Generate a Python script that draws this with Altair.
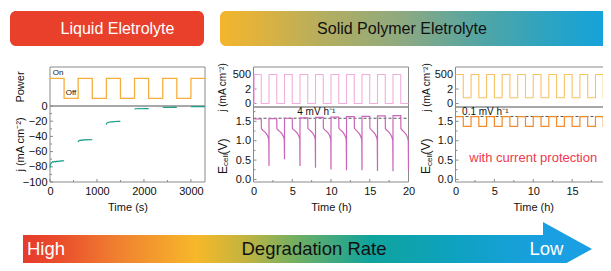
import altair as alt
import pandas as pd

# ---------------- data ----------------
banner_texts = ["Liquid Eletrolyte", "Solid Polymer Eletrolyte"]
arrow_texts = ["High", "Degradation Rate", "Low"]
rate_texts = ["4 mV h⁻¹", "0.1 mV h⁻¹"]
protect_text = "with current protection"

# panel 1 : power on/off (time in s)
p1_time = [0, 300, 300, 600, 600, 900, 900, 1200, 1200, 1500, 1500, 1800, 1800,
           2100, 2100, 2400, 2400, 2700, 2700, 3000, 3000, 3300]
p1_power = [1, 1, 0, 0, 1, 1, 0, 0, 1, 1, 0, 0, 1, 1, 0, 0, 1, 1, 0, 0, 1, 1]

# panel 1 : current density during "on" periods
j1_seg = [1] * 19 + [2] * 18 + [3] * 15 + [4] * 7 + [5] * 7 + [6] * 7
j1_time = [0, 5, 12, 20, 30, 45, 60, 80, 100, 120, 140, 160, 180, 200, 220, 240, 260, 280, 300,
           600, 606, 615, 630, 650, 670, 690, 710, 730, 750, 770, 790, 810, 830, 850, 870, 890, 900,
           1200, 1206, 1215, 1230, 1250, 1275, 1300, 1325, 1350, 1375, 1400, 1425, 1450, 1475, 1500,
           1800, 1850, 1900, 1950, 2000, 2050, 2100,
           2400, 2450, 2500, 2550, 2600, 2650, 2700,
           3000, 3050, 3100, 3150, 3200, 3250, 3300]
j1_val = [-81, -78.5, -76.5, -75.5, -74.5, -74, -73.2, -73.8, -73, -73.5, -72.6, -73, -72.4, -72.8,
          -72.2, -72.6, -71.9, -72.3, -71.8,
          -47.5, -46.5, -45.8, -45.3, -44.9, -45.2, -44.6, -44.9, -44.3, -44.7, -44.2, -44.6, -44.1,
          -44.5, -44.2, -44.4, -44.1, -44.3,
          -24.5, -23, -22.2, -21.8, -21.4, -21.1, -20.9, -20.8, -20.6, -20.5, -20.4, -20.3, -20.2,
          -20.2, -20.1,
          -3.8, -3.6, -3.5, -3.6, -3.4, -3.5, -3.4,
          -1.9, -1.8, -1.7, -1.8, -1.7, -1.6, -1.7,
          -0.9, -0.8, -0.8, -0.7, -0.8, -0.7, -0.7]

# panel 2 : current (mA cm-2) and cell voltage (time in h)
p2_j_time = [0, 0.1, 0.1, 1, 1, 2, 2, 3, 3, 4, 4, 5, 5, 6, 6, 7, 7, 8, 8, 9, 9, 10, 10, 11, 11,
             12, 12, 13, 13, 14, 14, 15, 15, 16, 16, 17, 17, 18, 18, 19, 19, 20]
p2_j_val = [0, 0, 500, 500, 0, 0, 500, 500, 0, 0, 500, 500, 0, 0, 500, 500, 0, 0, 500, 500, 0, 0,
            500, 500, 0, 0, 500, 500, 0, 0, 500, 500, 0, 0, 500, 500, 0, 0, 500, 500, 0, 0]
p2_e_time = [0.1, 1.0, 1.02, 1.2, 1.45, 1.7, 1.88, 1.97, 2.0, 2.0,
             3.0, 3.02, 3.2, 3.45, 3.7, 3.88, 3.97, 4.0, 4.0,
             5.0, 5.02, 5.2, 5.45, 5.7, 5.88, 5.97, 6.0, 6.0,
             7.0, 7.02, 7.2, 7.45, 7.7, 7.88, 7.97, 8.0, 8.0,
             9.0, 9.02, 9.2, 9.45, 9.7, 9.88, 9.97, 10.0, 10.0,
             11.0, 11.02, 11.2, 11.45, 11.7, 11.88, 11.97, 12.0, 12.0,
             13.0, 13.02, 13.2, 13.45, 13.7, 13.88, 13.97, 14.0, 14.0,
             15.0, 15.02, 15.2, 15.45, 15.7, 15.88, 15.97, 16.0, 16.0,
             17.0, 17.02, 17.2, 17.45, 17.7, 17.88, 17.97, 18.0, 18.0,
             19.0, 19.02, 19.2, 19.45, 19.7, 19.88, 19.97, 20.0]
p2_e_val = [1.56, 1.56, 1.31, 1.27, 1.23, 1.17, 1.10, 1.03, 0.35, 1.57,
            1.57, 1.31, 1.27, 1.23, 1.17, 1.10, 1.03, 0.52, 1.58,
            1.58, 1.31, 1.28, 1.24, 1.18, 1.11, 1.04, 0.35, 1.59,
            1.59, 1.32, 1.28, 1.24, 1.18, 1.11, 1.03, 0.30, 1.60,
            1.60, 1.32, 1.28, 1.24, 1.18, 1.10, 1.02, 0.26, 1.61,
            1.61, 1.32, 1.28, 1.24, 1.17, 1.10, 1.02, 0.24, 1.62,
            1.62, 1.32, 1.28, 1.23, 1.17, 1.09, 1.01, 0.24, 1.63,
            1.63, 1.32, 1.28, 1.23, 1.17, 1.09, 1.01, 0.22, 1.64,
            1.64, 1.31, 1.27, 1.23, 1.16, 1.08, 1.00, 0.21, 1.65,
            1.65, 1.31, 1.27, 1.22, 1.16, 1.08, 1.00, 0.22]
p2_rate_level = 1.58

# panel 3 : with current protection
p3_time = [0, 1, 1, 2, 2, 3, 3, 4, 4, 5, 5, 6, 6, 7, 7, 8, 8, 9, 9, 10, 10, 11, 11, 12, 12,
           13, 13, 14, 14, 15, 15, 16, 16, 17, 17, 18, 18, 19, 19, 20]
p3_j_val = [500, 500, 100, 100, 500, 500, 100, 100, 500, 500, 100, 100, 500, 500, 100, 100,
            500, 500, 100, 100, 500, 500, 100, 100, 500, 500, 100, 100, 500, 500, 100, 100,
            500, 500, 100, 100, 500, 500, 100, 100]
p3_e_val = [1.62, 1.62, 1.37, 1.37, 1.62, 1.62, 1.37, 1.37, 1.62, 1.62, 1.37, 1.37, 1.62, 1.62,
            1.37, 1.37, 1.62, 1.62, 1.37, 1.37, 1.62, 1.62, 1.37, 1.37, 1.62, 1.62, 1.37, 1.37,
            1.62, 1.62, 1.37, 1.37, 1.62, 1.62, 1.37, 1.37, 1.62, 1.62, 1.37, 1.37]
p3_rate_level = 1.625

# axis ticks (major labelled, minor unlabelled)
sec_ticks = [0, 1000, 2000, 3000]
sec_minor = [500, 1500, 2500]
j1_ticks = [0, -20, -40, -60, -80, -100]
j1_minor = [-10, -30, -50, -70, -90]
hour_ticks = [0, 5, 10, 15, 20]
hour_minor = [2.5, 7.5, 12.5, 17.5]
e_ticks = [0.0, 0.5, 1.0, 1.5]
e_minor = [0.25, 0.75, 1.25, 1.75]
jtop_ticks = [0, 250, 500]

# ---------------- layout helpers ----------------
OX, OY = 8, 8          # page margin
W, H = 595, 255
FRAME = "#8a8a8a"
TXT = "#111111"
FONT = "Liberation Sans"


def sx(domain, a, b):
    return alt.Scale(domain=domain, range=[a - OX, b - OX], nice=False, zero=False)


def sy(domain, bottom, top):
    return alt.Scale(domain=domain, range=[bottom - OY, top - OY], nice=False, zero=False)


P1X_D, P1YT_D, P1YB_D = [0, 3300], [-0.385, 1.565], [-100, 0]
H_D, JT_D, EB_D = [0, 20], [-60, 630], [-0.065, 1.87]
P1X = sx(P1X_D, 50, 205)
P1YT = sy(P1YT_D, 106, 67)
P1YB = sy(P1YB_D, 182, 106)
P2X = sx(H_D, 253.5, 408.5)
P3X = sx(H_D, 455.5, 611)
JT = sy(JT_D, 107, 67)
EB = sy(EB_D, 182, 107)


def x_axis(values, title, fmt=None):
    kw = dict(orient="bottom", offset=182 - OY - H, values=values, domain=False,
              ticks=False, grid=False, labelFontSize=11, labelPadding=3, labelColor=TXT,
              labelFlush=False, labelOverlap=False, title=title, titleFontSize=11,
              titleFontWeight="normal", titleColor=TXT, titleY=25, titleBaseline="middle")
    if fmt:
        kw["format"] = fmt
    return alt.Axis(**kw)


def y_axis(axis_x, values, title, title_x, title_y, title_size=11, labels=True, fmt=None, expr=None):
    kw = dict(orient="left", offset=-(axis_x - OX), values=values, domain=False, ticks=False,
              grid=False, labels=labels, labelFontSize=11, labelPadding=3, labelColor=TXT,
              labelFlush=False, labelOverlap=False, title=title, titleFontSize=title_size,
              titleFontWeight="normal", titleColor=TXT, titleAngle=270, titleAlign="center",
              titleBaseline="middle", titleX=title_x - axis_x, titleY=title_y - OY)
    if fmt:
        kw["format"] = fmt
    if expr:
        kw["labelExpr"] = expr
    return alt.Axis(**kw)


def series(t, v, xs, ys, color, width=1.2, xax=None, yax=None, seg=None):
    df = pd.DataFrame({"t": t, "v": v})
    df["i"] = range(len(df))
    enc = dict(x=alt.X("t:Q", scale=xs, axis=xax), y=alt.Y("v:Q", scale=ys, axis=yax),
               order="i:Q")
    if seg is not None:
        df["seg"] = seg
        enc["detail"] = "seg:N"
    return alt.Chart(df).mark_line(color=color, strokeWidth=width).encode(**enc)


def frame(xs, ys, xd, yd):
    df = pd.DataFrame({"x0": [xd[0]], "x1": [xd[1]], "y0": [yd[0]], "y1": [yd[1]]})
    return alt.Chart(df).mark_rect(fillOpacity=0, stroke=FRAME, strokeWidth=1).encode(
        x=alt.X("x0:Q", scale=xs, axis=None), x2="x1:Q",
        y=alt.Y("y0:Q", scale=ys, axis=None), y2="y1:Q")


def xticks(xs, ys, values, yd, length_px, span_px):
    """inward tick marks on the bottom edge of a panel (length given in pixels)"""
    y0 = yd[0]
    y1 = yd[0] + (yd[1] - yd[0]) * length_px / span_px
    df = pd.DataFrame({"t": values})
    df["y0"] = y0
    df["y1"] = y1
    return alt.Chart(df).mark_rule(color=FRAME, strokeWidth=1).encode(
        x=alt.X("t:Q", scale=xs, axis=None), y=alt.Y("y0:Q", scale=ys, axis=None), y2="y1:Q")


def yticks(xs, ys, values, xd, length_px, span_px):
    """inward tick marks on the left edge of a panel"""
    x0 = xd[0]
    x1 = xd[0] + (xd[1] - xd[0]) * length_px / span_px
    df = pd.DataFrame({"v": values})
    df["x0"] = x0
    df["x1"] = x1
    return alt.Chart(df).mark_rule(color=FRAME, strokeWidth=1).encode(
        y=alt.Y("v:Q", scale=ys, axis=None), x=alt.X("x0:Q", scale=xs, axis=None), x2="x1:Q")


def note(xs, ys, t, v, label, **mk):
    df = pd.DataFrame({"t": [t], "v": [v], "label": [label]})
    return alt.Chart(df).mark_text(**mk).encode(
        x=alt.X("t:Q", scale=xs, axis=None), y=alt.Y("v:Q", scale=ys, axis=None), text="label:N")


def dashed(xs, ys, level):
    df = pd.DataFrame({"x0": [0], "x1": [20], "y": [level]})
    return alt.Chart(df).mark_rule(color="#555555", strokeDash=[3, 2], strokeWidth=1).encode(
        x=alt.X("x0:Q", scale=xs, axis=None), x2="x1:Q", y=alt.Y("y:Q", scale=ys, axis=None))


dummy = pd.DataFrame({"d": [0]})


def deco_text(text, x, y, **mk):
    return alt.Chart(dummy).mark_text(text=text, **mk).encode(
        x=alt.value(x - OX), y=alt.value(y - OY))


def deco_rect(x0, x1, y0, y1, **mk):
    return alt.Chart(dummy).mark_rect(**mk).encode(
        x=alt.value(x0 - OX), x2=alt.value(x1 - OX), y=alt.value(y0 - OY), y2=alt.value(y1 - OY))


def ecell_title(x, y_start):
    return [
        deco_text("E", x, y_start, fontSize=12, angle=270, align="left", baseline="middle", color=TXT),
        deco_text("cell", x + 3.5, y_start - 8, fontSize=8, angle=270, align="left", baseline="middle", color=TXT),
        deco_text("(V)", x, y_start - 19.5, fontSize=12, angle=270, align="left", baseline="middle", color=TXT),
    ]


# ---------------- gradients ----------------
banner_grad = alt.LinearGradient(
    gradient="linear", x1=0, x2=1, y1=0, y2=0,
    stops=[alt.GradientStop(color="#F4B52C", offset=0),
           alt.GradientStop(color="#DDB23F", offset=0.1),
           alt.GradientStop(color="#B5AE5E", offset=0.24),
           alt.GradientStop(color="#8CA982", offset=0.44),
           alt.GradientStop(color="#4FA5A6", offset=0.63),
           alt.GradientStop(color="#22A3CB", offset=0.83),
           alt.GradientStop(color="#0BA2EA", offset=1)])
arrow_grad = alt.LinearGradient(
    gradient="linear", x1=0, x2=1, y1=0, y2=0,
    stops=[alt.GradientStop(color="#E63A2C", offset=0),
           alt.GradientStop(color="#EA4D2C", offset=0.07),
           alt.GradientStop(color="#F08030", offset=0.18),
           alt.GradientStop(color="#F7B82A", offset=0.33),
           alt.GradientStop(color="#C4B43E", offset=0.42),
           alt.GradientStop(color="#6AAE66", offset=0.53),
           alt.GradientStop(color="#10A39C", offset=0.66),
           alt.GradientStop(color="#0EA2BE", offset=0.81),
           alt.GradientStop(color="#1A9FE3", offset=1)])

layers = []

# banners
layers.append(deco_rect(10, 204, 11, 46, cornerRadius=6, color="#E8402B"))
layers.append(deco_rect(220, 640, 11, 46, cornerRadius=6, fill=banner_grad))
layers.append(deco_text(banner_texts[0], 117.5, 29, fontSize=16, color="white", align="center", baseline="middle"))
layers.append(deco_text(banner_texts[1], 402, 29, fontSize=16, color=TXT, align="center", baseline="middle"))

# ---- panel 1 ----
layers.append(frame(P1X, P1YT, P1X_D, P1YT_D))
layers.append(frame(P1X, P1YB, P1X_D, P1YB_D))
layers.append(xticks(P1X, P1YB, sec_ticks, P1YB_D, 3, 76))
layers.append(xticks(P1X, P1YB, sec_minor, P1YB_D, 2, 76))
layers.append(yticks(P1X, P1YB, j1_ticks, P1X_D, 3, 155))
layers.append(yticks(P1X, P1YB, j1_minor, P1X_D, 2, 155))
layers.append(series(p1_time, p1_power, P1X, P1YT, "#F6AF3E", 1.3,
                     yax=y_axis(50, [], "Power", 20, 86.5, labels=False)))
layers.append(series(j1_time, j1_val, P1X, P1YB, "#1F9E8A", 1.2,
                     xax=x_axis(sec_ticks, "Time (s)", fmt="d"),
                     yax=y_axis(50, j1_ticks, "j (mA cm⁻²)", 20, 144), seg=j1_seg))
layers.append(note(P1X, P1YT, 60, 1.28, "On", fontSize=8, align="left", baseline="middle", color=TXT))
layers.append(note(P1X, P1YT, 335, 0.25, "Off", fontSize=8, align="left", baseline="middle", color=TXT))

# ---- panel 2 ----
layers.append(frame(P2X, JT, H_D, JT_D))
layers.append(frame(P2X, EB, H_D, EB_D))
layers.append(xticks(P2X, EB, hour_ticks, EB_D, 3, 75))
layers.append(xticks(P2X, EB, hour_minor, EB_D, 2, 75))
layers.append(yticks(P2X, EB, e_ticks, H_D, 3, 155))
layers.append(yticks(P2X, EB, e_minor, H_D, 2, 155))
layers.append(yticks(P2X, JT, jtop_ticks, H_D, 3, 155))
layers.append(series(p2_j_time, p2_j_val, P2X, JT, "#F3ADDD", 1.1,
                     yax=y_axis(253.5, jtop_ticks, "j (mA cm⁻²)", 222, 87, title_size=10,
                                expr="datum.value == 250 ? '2' : datum.label")))
layers.append(dashed(P2X, EB, p2_rate_level))
layers.append(series(p2_e_time, p2_e_val, P2X, EB, "#C965BA", 1.2,
                     xax=x_axis(hour_ticks, "Time (h)"),
                     yax=y_axis(253.5, e_ticks, None, 222, 150, fmt=".1f")))
layers.append(note(P2X, EB, 8.1, 1.745, rate_texts[0], fontSize=10, align="center", baseline="middle", color=TXT))
layers += ecell_title(222.5, 174)

# ---- panel 3 ----
layers.append(frame(P3X, JT, H_D, JT_D))
layers.append(frame(P3X, EB, H_D, EB_D))
layers.append(xticks(P3X, EB, hour_ticks, EB_D, 3, 75))
layers.append(xticks(P3X, EB, hour_minor, EB_D, 2, 75))
layers.append(yticks(P3X, EB, e_ticks, H_D, 3, 155.5))
layers.append(yticks(P3X, EB, e_minor, H_D, 2, 155.5))
layers.append(yticks(P3X, JT, jtop_ticks, H_D, 3, 155.5))
layers.append(series(p3_time, p3_j_val, P3X, JT, "#F9C265", 1.1,
                     yax=y_axis(455.5, jtop_ticks, "j (mA cm⁻²)", 426, 87, title_size=10,
                                expr="datum.value == 250 ? '2' : datum.label")))
layers.append(dashed(P3X, EB, p3_rate_level))
layers.append(series(p3_time, p3_e_val, P3X, EB, "#F08A2C", 1.2,
                     xax=x_axis(hour_ticks, "Time (h)"),
                     yax=y_axis(455.5, e_ticks, None, 426, 150, fmt=".1f")))
layers.append(note(P3X, EB, 0.85, 1.75, rate_texts[1], fontSize=10, align="left", baseline="middle", color=TXT))
layers.append(note(P3X, EB, 10, 0.55, protect_text, fontSize=13, align="center", baseline="middle", color="#F2384F"))
layers += ecell_title(426, 174)

# ---- degradation arrow ----
layers.append(deco_rect(23, 548, 235, 263, fill=arrow_grad))
layers.append(alt.Chart(dummy).mark_point(
    shape="M-0.907,-1L0.907,0L-0.907,1Z", size=2916, filled=True, fill="#1A9FE3",
    opacity=1, strokeWidth=0).encode(x=alt.value(567.5 - OX), y=alt.value(249 - OY)))
layers.append(deco_text(arrow_texts[0], 27, 249, fontSize=18.5, color="white", align="left", baseline="middle"))
layers.append(deco_text(arrow_texts[1], 314, 249, fontSize=18.5, color=TXT, align="center", baseline="middle"))
layers.append(deco_text(arrow_texts[2], 546.5, 249, fontSize=18.5, color="white", align="center", baseline="middle"))

chart = alt.layer(*layers).resolve_scale(x="independent", y="independent").properties(
    width=W, height=H, autosize=alt.AutoSizeParams(type="none"), padding=0
).configure(font=FONT).configure_view(stroke=None)

chart.save("out.html", embed_options={"renderer": "svg", "actions": False})
